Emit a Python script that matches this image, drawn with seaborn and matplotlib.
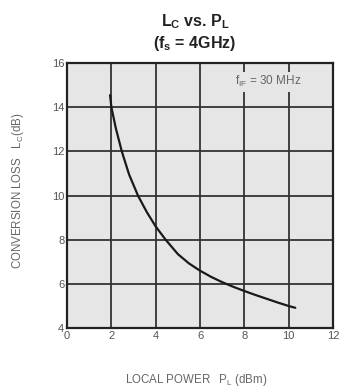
import matplotlib
matplotlib.use("Agg")
import matplotlib.pyplot as plt
import seaborn as sns
import pandas as pd

# values
local_power = [1.94, 2.0, 2.2, 2.47, 2.8, 3.2, 3.6, 4.0, 4.45, 5.0, 5.5,
               6.0, 6.5, 7.0, 7.5, 8.0, 8.5, 9.0, 9.5, 10.0, 10.3]
conv_loss = [14.55, 14.0, 13.05, 12.0, 10.95, 10.0, 9.25, 8.6, 8.0, 7.35, 6.93,
             6.6, 6.32, 6.08, 5.87, 5.68, 5.5, 5.33, 5.16, 5.0, 4.92]
x_ticks = [0, 2, 4, 6, 8, 10, 12]
y_ticks = [4, 6, 8, 10, 12, 14, 16]

df = pd.DataFrame({"PL": local_power, "LC": conv_loss})

sns.set_style("white")
plt.rcParams["font.family"] = ["Liberation Sans", "DejaVu Sans"]
plt.rcParams["mathtext.fontset"] = "custom"
plt.rcParams["mathtext.rm"] = "Liberation Sans"
plt.rcParams["mathtext.it"] = "Liberation Sans:italic"
plt.rcParams["mathtext.bf"] = "Liberation Sans:bold"
plt.rcParams["mathtext.default"] = "regular"

bg = "#e6e6e6"
fig = plt.figure(figsize=(3.44, 3.92), dpi=100)
ax = fig.add_axes([0.195, 0.163, 0.773, 0.676])
ax.set_facecolor(bg)

ax.grid(True, color="#333333", linewidth=1.3)
ax.set_axisbelow(True)

sns.lineplot(data=df, x="PL", y="LC", ax=ax, color="#1a1a1a", linewidth=1.6)

ax.set_xlim(0, 12)
ax.set_ylim(4, 16)
ax.set_xticks(x_ticks)
ax.set_yticks(y_ticks)
ax.tick_params(length=0, labelsize=8, labelcolor="#555555", pad=2)
for s in ax.spines.values():
    s.set_color("#222222")
    s.set_linewidth(1.6)

ax.text(9.07, 15.15, r"f$_{IF}$ = 30 MHz", fontsize=8.5, color="#666666",
        ha="center", va="center",
        bbox=dict(facecolor=bg, edgecolor="none", pad=1.5))

fig.text(0.567, 0.945, r"L$_C$ vs. P$_L$", ha="center", va="center",
         fontsize=11.5, fontweight="bold", color="#222222")
fig.text(0.567, 0.89, r"(f$_s$ = 4GHz)", ha="center", va="center",
         fontsize=11.5, fontweight="bold", color="#222222")

ax.set_xlabel("")
ax.set_ylabel("")
fig.text(0.571, 0.031, r"LOCAL POWER   P$_L$ (dBm)", ha="center", va="center",
         fontsize=8.3, color="#666666")
fig.text(0.052, 0.513, r"CONVERSION LOSS   L$_C$(dB)", ha="center", va="center",
         rotation=90, fontsize=8.3, color="#666666")

fig.savefig("out.png", dpi=100, facecolor="white")
